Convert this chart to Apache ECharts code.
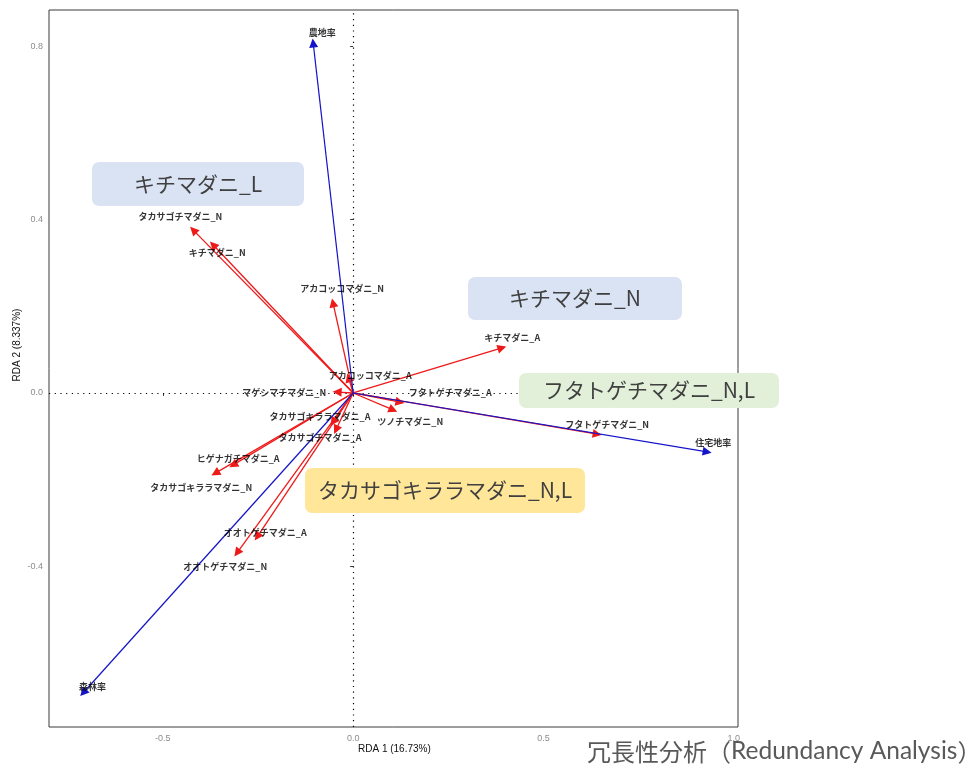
<!DOCTYPE html>
<html>
<head>
<meta charset="utf-8">
<script src="https://cdn.jsdelivr.net/npm/echarts@6/dist/echarts.min.js"></script>
<style>
  html, body { margin: 0; padding: 0; background: #fff; }
  #chart { width: 979px; height: 769px; }
</style>
</head>
<body>
<div id="chart"></div>
<script>
// Environmental variables (blue biplot arrows)
const envNames = ['農地率', '住宅地率', '森林率'];
const envRDA1 = [-0.105, 0.930, -0.709];
const envRDA2 = [0.808, -0.136, -0.692];
const envLabelRDA1 = [-0.081, 0.946, -0.685];
const envLabelRDA2 = [0.833, -0.115, -0.677];

// Tick species / life stages (red arrows)
const spNames = [
  'タカサゴチマダニ_N', 'キチマダニ_N', 'アカコッコマダニ_N', 'キチマダニ_A',
  'アカコッコマダニ_A', 'マゲシマチマダニ_N', 'フタトゲチマダニ_A', 'ツノチマダニ_N',
  'タカサゴキララマダニ_A', 'タカサゴチマダニ_A', 'フタトゲチマダニ_N',
  'ヒゲナガチマダニ_A', 'タカサゴキララマダニ_N', 'オオトゲチマダニ_A', 'オオトゲチマダニ_N'
];
const spRDA1 = [-0.420, -0.368, -0.053, 0.391, -0.012, -0.042, 0.123, 0.105,
  -0.053, -0.045, 0.641, -0.315, -0.362, -0.252, -0.305];
const spRDA2 = [0.376, 0.342, 0.208, 0.104, 0.035, 0.002, -0.021, -0.039,
  -0.067, -0.085, -0.095, -0.166, -0.185, -0.332, -0.369];
const spLabelRDA1 = [-0.454, -0.357, -0.029, 0.418, 0.045, -0.181, 0.255, 0.150,
  -0.087, -0.087, 0.667, -0.302, -0.399, -0.231, -0.336];
const spLabelRDA2 = [0.408, 0.325, 0.242, 0.127, 0.041, 0.000, 0.000, -0.067,
  -0.055, -0.104, -0.074, -0.152, -0.219, -0.323, -0.400];

// Axis ticks
const xTicks = [-0.5, 0.0, 0.5, 1.0];
const yTicks = [-0.4, 0.0, 0.4, 0.8];

// Group annotations
const groupTexts = ['キチマダニ_L', 'キチマダニ_N', 'フタトゲチマダニ_N,L', 'タカサゴキララマダニ_N,L'];

const JP = '"Noto Sans CJK JP", "Noto Sans", sans-serif';
const chart = echarts.init(document.getElementById('chart'), null, { renderer: 'canvas' });

function arrows(xs, ys) {
  return xs.map((x, i) => ({ coords: [[0, 0], [x, ys[i]]] }));
}
function labels(names, xs, ys) {
  return names.map((n, i) => [xs[i], ys[i], n]);
}
function box(x, y, w, h, fill, text) {
  return {
    type: 'group', left: x, top: y, z: 50,
    children: [
      { type: 'rect', z: 50, shape: { x: 0, y: 0, width: w, height: h, r: 7 }, style: { fill: fill } },
      { type: 'text', z: 51, x: w / 2, y: h / 2,
        style: { text: text, font: '21px ' + JP, fill: '#404040', align: 'center', verticalAlign: 'middle' } }
    ]
  };
}

const labelStyle = {
  show: true, position: 'inside', formatter: p => p.value[2],
  fontSize: 9, fontWeight: 'bold', color: '#000', fontFamily: JP
};

chart.setOption({
  animation: false,
  backgroundColor: '#fff',
  grid: { left: 49, top: 10, width: 689, height: 717, show: true, borderColor: '#3a3a3a', borderWidth: 1, backgroundColor: 'transparent' },
  xAxis: {
    type: 'value', min: -0.799, max: 1.011,
    axisLine: { show: false },
    splitLine: { show: false },
    axisTick: { show: true, customValues: xTicks, length: 3, lineStyle: { color: '#3a3a3a' } },
    axisLabel: { customValues: xTicks, formatter: v => v.toFixed(1), fontSize: 9, color: '#8c8c8c', margin: 7, fontFamily: 'Liberation Sans' }
  },
  yAxis: {
    type: 'value', min: -0.771, max: 0.884,
    axisLine: { show: false },
    splitLine: { show: false },
    axisTick: { show: true, customValues: yTicks, length: 3, lineStyle: { color: '#3a3a3a' } },
    axisLabel: { customValues: yTicks, formatter: v => v.toFixed(1), fontSize: 9, color: '#8c8c8c', margin: 6, fontFamily: 'Liberation Sans' }
  },
  series: [
    {
      type: 'scatter', symbolSize: 0, data: [], silent: true, z: 1,
      markLine: {
        silent: true, symbol: 'none', label: { show: false }, z: 1,
        lineStyle: { color: '#000', width: 1.2, type: [1.2, 4.5] },
        data: [{ xAxis: 0 }, { yAxis: 0 }]
      }
    },
    {
      type: 'lines', coordinateSystem: 'cartesian2d', z: 3,
      symbol: ['none', 'triangle'], symbolSize: [0, 9],
      lineStyle: { color: '#ee1a1a', width: 1.3, opacity: 1, curveness: 0 },
      data: arrows(spRDA1, spRDA2)
    },
    {
      type: 'lines', coordinateSystem: 'cartesian2d', z: 4,
      symbol: ['none', 'triangle'], symbolSize: [0, 9],
      lineStyle: { color: '#1414c8', width: 1.2, opacity: 1, curveness: 0 },
      itemStyle: { color: '#0000ff' },
      data: arrows(envRDA1, envRDA2)
    },
    {
      type: 'scatter', symbolSize: 0, z: 5, silent: true,
      label: labelStyle,
      data: labels(spNames, spLabelRDA1, spLabelRDA2)
    },
    {
      type: 'scatter', symbolSize: 0, z: 5, silent: true,
      label: labelStyle,
      data: labels(envNames, envLabelRDA1, envLabelRDA2)
    }
  ],
  graphic: {
    z: 100,
    elements: [
      box(92, 162, 212, 44, '#dae3f3', groupTexts[0]),
      box(468, 277, 214, 43, '#dae3f3', groupTexts[1]),
      box(519, 373, 260, 35, '#e2f0d9', groupTexts[2]),
      box(305, 468, 280, 45, '#ffe699', groupTexts[3]),
      { type: 'text', left: 358, top: 744, z: 40,
        style: { text: 'RDA 1 (16.73%)', font: '10px "Liberation Sans Narrow", "Liberation Sans", sans-serif', fill: '#111' } },
      { type: 'text', x: 17, y: 345, rotation: Math.PI / 2, z: 40,
        style: { text: 'RDA 2 (8.337%)', font: '10px "Liberation Sans Narrow", "Liberation Sans", sans-serif', fill: '#111', align: 'center', verticalAlign: 'middle' } },
      { type: 'text', left: 587, top: 739, z: 60,
        style: {
          text: '{j|冗長性分析（}{e|Redundancy Analysis}{j|）}',
          rich: {
            j: { fontFamily: JP, fontSize: 24, fill: '#595959', color: '#595959' },
            e: { fontFamily: 'Lato, "Open Sans", sans-serif', fontSize: 24.5, fill: '#595959', color: '#595959' }
          }
        } }
    ]
  }
});
</script>
</body>
</html>
